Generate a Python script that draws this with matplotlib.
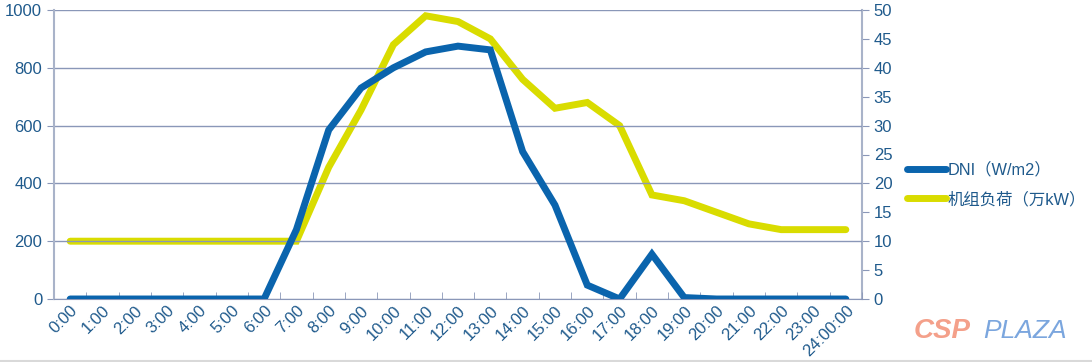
import matplotlib
matplotlib.use("Agg")
import matplotlib.pyplot as plt

plt.rcParams['font.family'] = ['Liberation Sans', 'Noto Sans CJK SC', 'DejaVu Sans']

hours = [f"{h}:00" for h in range(24)] + ["24:00:00"]
dni = [0, 0, 0, 0, 0, 0, 0, 240, 585, 730, 800, 855, 875, 862, 510, 325, 48, 0, 155, 5, 0, 0, 0, 0, 0]
load = [10, 10, 10, 10, 10, 10, 10, 10, 22.8, 32.7, 44, 49, 48, 45, 38, 33, 34, 30, 18, 17, 15, 13, 12, 12, 12]

blue = "#0a64ad"
yellow = "#d9dc00"
tick_col = "#1f5a8c"
grid_col = "#8a97b8"

fig = plt.figure(figsize=(10.92, 3.62), dpi=100)
ax = fig.add_axes([54/1092, 63/362, 808/1092, 289/362])
ax2 = ax.twinx()

x = list(range(len(hours)))
l1, = ax.plot(x, dni, color=blue, lw=5, solid_capstyle='round', solid_joinstyle='miter', zorder=3)
l2, = ax2.plot(x, load, color=yellow, lw=5, solid_capstyle='round', solid_joinstyle='miter', zorder=2)
ax.set_zorder(ax2.get_zorder() + 1)
ax.patch.set_visible(False)

ax.set_xlim(-0.5, len(hours) - 0.5)
ax.set_ylim(0, 1000)
ax2.set_ylim(0, 50)
ax.set_yticks(range(0, 1001, 200))
ax2.set_yticks(range(0, 51, 5))
ax.set_xticks(x)
ax.set_xticklabels(hours, rotation=45, ha='right', va='top', rotation_mode='anchor')
ax.set_xticks([i - 0.5 for i in range(len(hours) + 1)], minor=True)
ax.tick_params(axis='x', which='major', length=0, pad=3, labelsize=12, labelcolor=tick_col)
ax.tick_params(axis='x', which='minor', length=5, color=grid_col, direction='in')
ax.tick_params(axis='y', length=5, color=grid_col, labelsize=12, labelcolor=tick_col)
ax2.tick_params(axis='y', length=5, color=grid_col, labelsize=12, labelcolor=tick_col)

ax.grid(axis='y', color=grid_col, lw=1)
for a in (ax, ax2):
    for s in a.spines.values():
        s.set_visible(False)
ax.spines['left'].set_visible(True)
ax.spines['left'].set_color("#a9b3c9")
ax.spines['left'].set_linewidth(1.5)
ax2.spines['right'].set_visible(True)
ax2.spines['right'].set_color("#a9b3c9")
ax2.spines['right'].set_linewidth(1.5)
ax.spines['bottom'].set_visible(True)
ax.spines['bottom'].set_color(grid_col)

fig.legend([l1, l2], ["DNI（W/m2）", "机组负荷（万kW）"], loc='upper left',
           bbox_to_anchor=(907/1092, 1 - 162/362), frameon=False, fontsize=11.8,
           labelcolor=tick_col, handlelength=2.4, handletextpad=0.1, labelspacing=0.85,
           borderaxespad=0, borderpad=0)

fig.text(914/1092, 1 - 331/362, "CSP", color="#f4a08a", fontsize=20, fontweight='heavy',
         style='italic', va='center', ha='left')
fig.text(983/1092, 1 - 331/362, "PLAZA", color="#7ba6de", fontsize=19,
         style='italic', va='center', ha='left')

fig.add_artist(plt.Line2D([0, 1], [1.5/362, 1.5/362], color="#d9d9d9", lw=1.5, transform=fig.transFigure))

fig.savefig("out.png", dpi=100)
